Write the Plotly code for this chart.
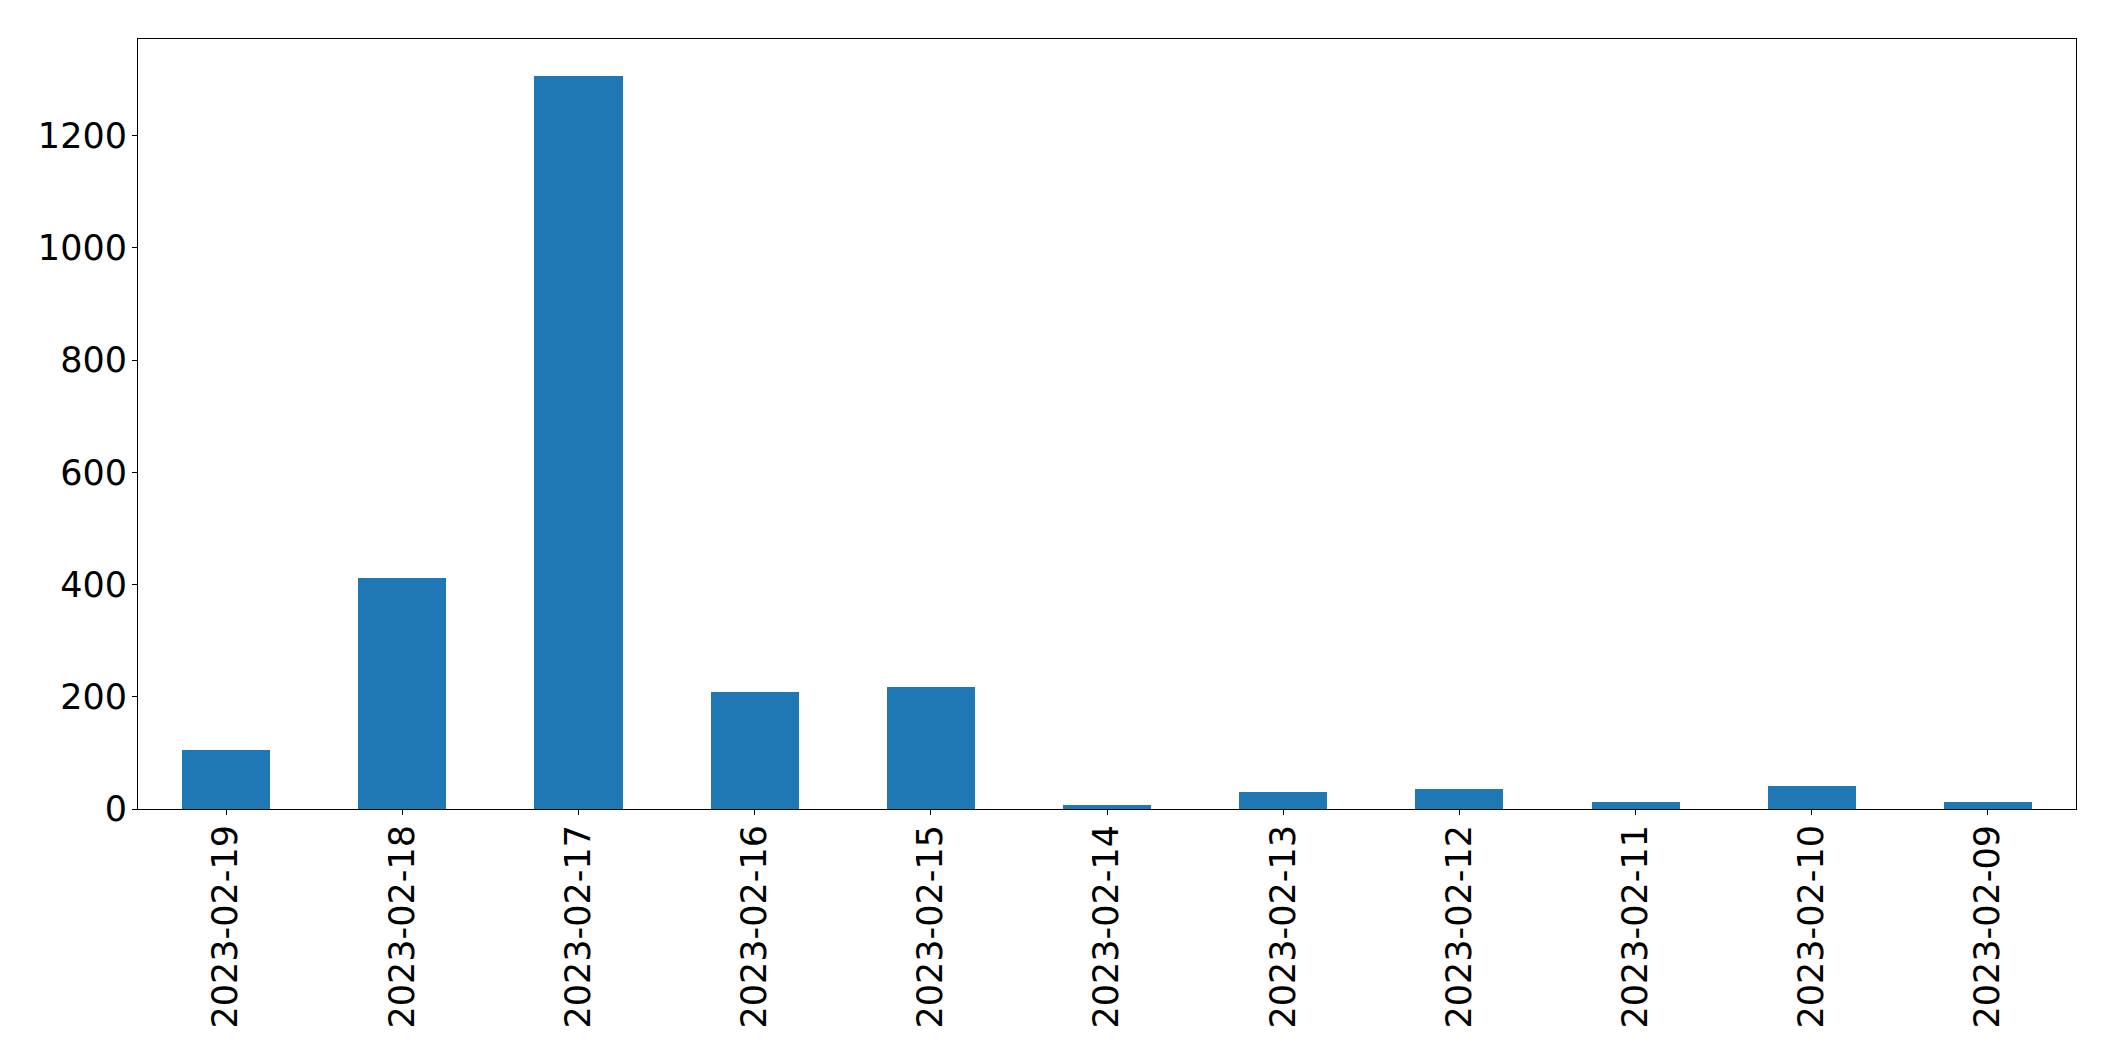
import plotly.graph_objects as go

dates = ["2023-02-19", "2023-02-18", "2023-02-17", "2023-02-16", "2023-02-15",
         "2023-02-14", "2023-02-13", "2023-02-12", "2023-02-11", "2023-02-10",
         "2023-02-09"]
counts = [105, 412, 1307, 209, 218, 7, 30, 36, 12, 41, 12]
y_ticks = [0, 200, 400, 600, 800, 1000, 1200]

FONT = "DejaVu Sans"
fig = go.Figure()
fig.add_trace(go.Bar(
    x=list(range(len(dates))), y=counts, width=0.5,
    marker=dict(color="#1f77b4", line=dict(width=0)),
))

fig.update_layout(
    width=2115, height=1061, autosize=False,
    margin=dict(l=138, r=39, t=39, b=252, pad=0),
    plot_bgcolor="white", paper_bgcolor="white",
    font=dict(family=FONT, size=35, color="black"),
    showlegend=False,
    bargap=0,
)
fig.update_xaxes(
    range=[-0.5, len(dates) - 0.5],
    tickmode="array", tickvals=list(range(len(dates))), ticktext=dates,
    tickangle=-90,
    ticks="outside", ticklen=5, tickwidth=1.1, tickcolor="black",
    showline=True, linecolor="black", linewidth=1.1, mirror=True,
    showgrid=False, zeroline=False,
    tickfont=dict(family=FONT, size=35, color="black"),
    ticklabelstandoff=-4,
    automargin=False,
)
fig.update_yaxes(
    range=[0, max(counts) * 1.05],
    tickmode="array", tickvals=y_ticks,
    ticks="outside", ticklen=5, tickwidth=1.1, tickcolor="black",
    showline=True, linecolor="black", linewidth=1.1, mirror=True,
    showgrid=False, zeroline=False,
    tickfont=dict(family=FONT, size=35, color="black"),
    ticklabelstandoff=-2,
    automargin=False,
)

fig.write_html("out.html", config={"displayModeBar": False},
               post_script="document.body.style.margin='0';")
